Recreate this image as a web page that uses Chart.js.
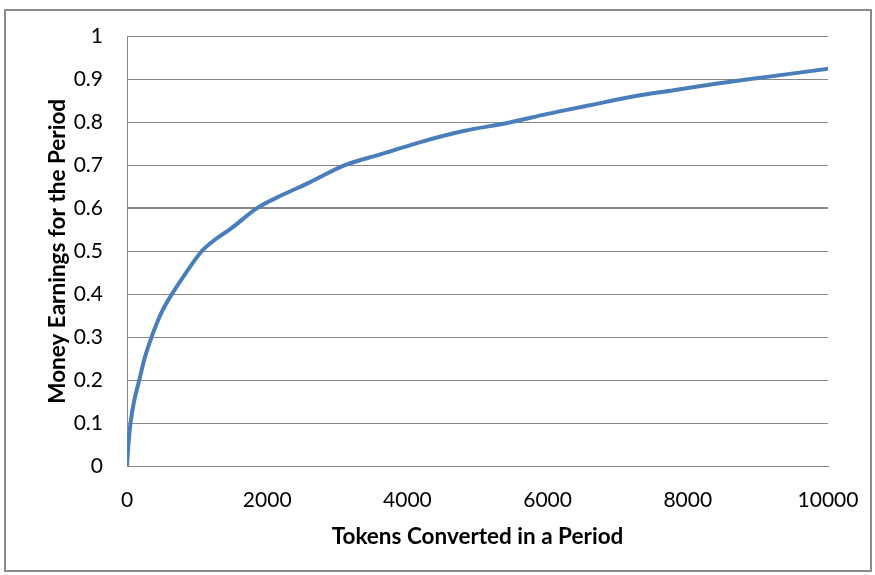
<!DOCTYPE html>
<html>
<head>
<meta charset="utf-8">
<script src="https://cdn.jsdelivr.net/npm/chart.js@4"></script>
<style>
  body { margin: 0; background: #fff; }
  #wrap { position: relative; width: 875px; height: 575px; }
  #frame { position: absolute; left: 4px; top: 9px; width: 864px; height: 559px; border: 2px solid #8a8a8a; pointer-events: none; }
</style>
</head>
<body>
<div id="wrap">
  <canvas id="earningsChart" width="875" height="575"></canvas>
  <div id="frame"></div>
</div>
<script>
// values
const tokens = [0, 20, 50, 100, 175, 250, 350, 500, 640, 800, 1065, 1200, 1500, 1850, 2200, 2600, 3100, 3600, 4200, 4800, 5460, 6000, 6600, 7200, 7800, 8400, 8840, 9400, 10000]
const earnings = [0, 0.05, 0.1, 0.15, 0.2, 0.25, 0.3, 0.36, 0.4, 0.44, 0.5, 0.52, 0.555, 0.6, 0.63, 0.66, 0.7, 0.725, 0.755, 0.78, 0.8, 0.82, 0.84, 0.86, 0.875, 0.89, 0.9, 0.912, 0.925]

const xTicks = [0, 2000, 4000, 6000, 8000, 10000]

const points = tokens.map((t, i) => ({ x: t, y: earnings[i] }))

const ctx = document.getElementById('earningsChart').getContext('2d');

new Chart(ctx, {
    type: 'line',
    data: {
        datasets: [{
            data: points,
            borderColor: '#4A7EBB',
            borderWidth: 4,
            pointRadius: 0,
            cubicInterpolationMode: 'monotone',
            fill: false,
        }]
    },
    options: {
        responsive: false,
        animation: false,
        layout: {
            padding: { left: 40, right: 47, top: 36, bottom: 21 }
        },
        plugins: {
            legend: { display: false },
            tooltip: { enabled: false }
        },
        scales: {
            x: {
                type: 'linear',
                min: 0,
                max: 10000,
                afterBuildTicks: (scale) => {
                    scale.ticks = xTicks.map(v => ({ value: v }))
                },
                afterFit: (scale) => { scale.height = 88 },
                grid: { display: false },
                border: { display: true, color: '#868686', width: 1 },
                ticks: {
                    padding: 14,
                    color: '#000',
                    maxRotation: 0,
                    font: { family: 'Lato', size: 21 },
                    callback: (v) => String(v)
                },
                title: {
                    display: true,
                    text: 'Tokens Converted in a Period',
                    color: '#000',
                    font: { family: 'Lato', size: 22.5, weight: 'bold' }
                }
            },
            y: {
                min: 0,
                max: 1,
                afterFit: (scale) => { scale.width = 87 },
                grid: {
                    drawTicks: false,
                    color: '#868686',
                    lineWidth: (c) => (c.tick && Math.abs(c.tick.value - 0.6) < 1e-6 ? 2 : 1)
                },
                border: { display: true, color: '#868686', width: 1 },
                ticks: {
                    stepSize: 0.1,
                    padding: 24,
                    color: '#000',
                    font: { family: 'Lato', size: 21 },
                    callback: (v) => Math.round(v * 10) / 10
                },
                title: {
                    display: true,
                    text: 'Money Earnings for the Period',
                    color: '#000',
                    font: { family: 'Lato', size: 22.5, weight: 'bold' }
                }
            }
        }
    }
});
</script>
</body>
</html>
